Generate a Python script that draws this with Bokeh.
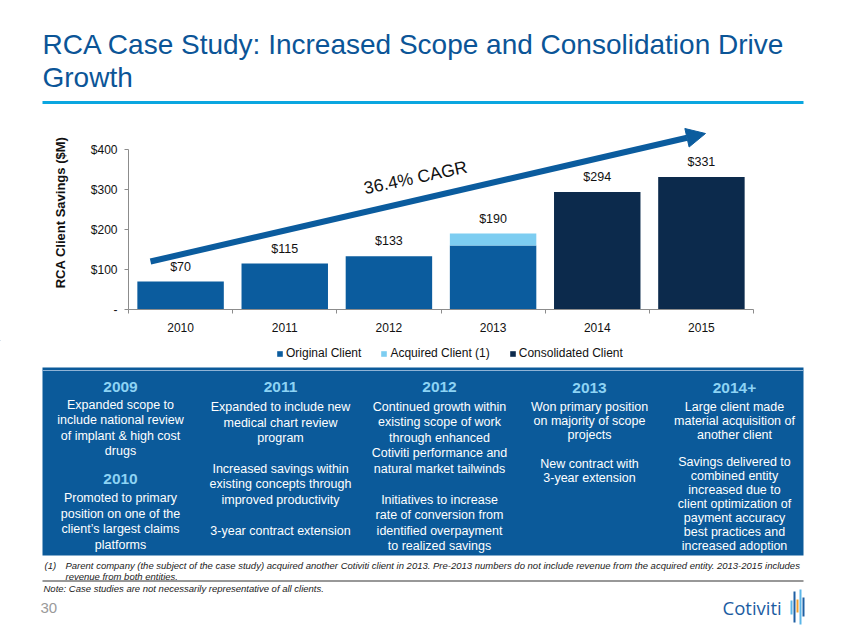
from bokeh.plotting import figure
from bokeh.models import (Range1d, FixedTicker, Arrow, NormalHead, Label, Legend,
                          LegendItem, ColumnDataSource, LabelSet)
from bokeh.embed import file_html
from bokeh.resources import INLINE
from bokeh.core.properties import value

# ---------------- data ----------------
years = ["2010", "2011", "2012", "2013", "2014", "2015"]
original = [70, 115, 133, 160, 0, 0]
acquired = [0, 0, 0, 30, 0, 0]
consolidated = [0, 0, 0, 0, 294, 331]
series_names = ["Original Client", "Acquired Client (1)", "Consolidated Client"]
y_ticks = [0, 100, 200, 300, 400]
y_tick_labels = ["-", "$100", "$200", "$300", "$400"]
cagr_text = "36.4% CAGR"

title_lines = ["RCA Case Study: Increased Scope and Consolidation Drive", "Growth"]

panel_columns = [
    [("h", ["2009"]), ("t", ["Expanded scope to", "include national review",
                             "of implant & high cost", "drugs"]),
     ("h", ["2010"]), ("t", ["Promoted to primary", "position on one of the",
                             "client\u2019s largest claims", "platforms"])],
    [("h", ["2011"]), ("t", ["Expanded to include new", "medical chart review", "program"]),
     ("t", ["Increased savings within", "existing concepts through", "improved productivity"]),
     ("t", ["3-year contract extension"])],
    [("h", ["2012"]), ("t", ["Continued growth within", "existing scope of work",
                             "through enhanced", "Cotiviti performance and",
                             "natural market tailwinds"]),
     ("t", ["Initiatives to increase", "rate of conversion from",
            "identified overpayment", "to realized savings"])],
    [("h", ["2013"]), ("t", ["Won primary position", "on majority of scope", "projects"]),
     ("t", ["New contract with", "3-year extension"])],
    [("h", ["2014+"]), ("t", ["Large client made", "material acquisition of", "another client"]),
     ("t", ["Savings delivered to", "combined entity", "increased due to",
            "client optimization of", "payment accuracy", "best practices and",
            "increased adoption"])],
]
footnote_lines = ["Parent company (the subject of the case study) acquired another Cotiviti client in 2013.  "
                  "Pre-2013 numbers do not include revenue from the acquired entity.  2013-2015 includes",
                  "revenue from both entities."]
note_text = "Note:  Case studies are not necessarily representative of all clients."
page_number = "30"
logo_text = "Cotiviti"

# ---------------- style ----------------
FONT = "Liberation Sans"
C_ORIG = "#0B5C9E"
C_ACQ = "#7DCDF1"
C_CONS = "#0C2A4C"
C_TITLE = "#0B5597"
C_RULE = "#0AA6E0"
C_PANEL = "#0B5A9A"
C_HEAD = "#8DD3F4"
PW = 846

# page pixel layout
HDR_B = 115            # header figure: page y 0..115
FR_L, FR_R, FR_T, FR_B = 128, 753, 115, 309   # chart frame
CH_B = 340             # chart figure: page y 115..340
PG_B = 635             # lower figure: page y 340..635
N = len(years)
Y_TOP = 485
SX = (FR_R - FR_L) / N
SY = (FR_B - FR_T) / Y_TOP


def px(x):
    return (x - FR_L) / SX


def py(y):
    return (FR_B - y) / SY


def sheet(top, bottom):
    f = figure(width=PW, height=bottom - top, x_range=Range1d(0, PW),
               y_range=Range1d(bottom, top), output_backend="svg",
               toolbar_location=None, min_border=0, outline_line_color=None,
               x_axis_location=None, y_axis_location=None)
    f.grid.visible = False
    return f


def txt(f, xs_, ys_, t, size, color, align="center", style="normal",
        baseline="middle", font=FONT):
    f.text(x=xs_, y=ys_, text=t, text_font=value(font), text_font_size=size,
           text_color=color, text_align=align, text_baseline=baseline,
           text_font_style=style)


# ---------------- header ----------------
hdr = sheet(0, HDR_B)
txt(hdr, [42, 42], [44, 77], title_lines, "28px", C_TITLE, align="left")
hdr.quad(left=[42], right=[803], top=[100.5], bottom=[103.5], fill_color=C_RULE,
         line_color=None)

# ---------------- chart ----------------
xs = [i + 0.5 for i in range(N)]
totals = [o + a + c for o, a, c in zip(original, acquired, consolidated)]
src = ColumnDataSource(dict(x=xs, original=original, acquired=acquired,
                            consolidated=consolidated, total=totals,
                            lab=["$%d" % t for t in totals]))

p = figure(width=PW, height=CH_B - FR_T, x_range=Range1d(0, N), y_range=Range1d(0, Y_TOP),
           output_backend="svg", toolbar_location=None,
           min_border_left=FR_L, min_border_right=PW - FR_R,
           min_border_top=0, min_border_bottom=CH_B - FR_B,
           outline_line_color=None)
p.grid.visible = False

rs = p.vbar_stack(["original", "acquired", "consolidated"], x="x", width=0.83,
                  color=[C_ORIG, C_ACQ, C_CONS], line_color=None, source=src)

p.add_layout(LabelSet(x="x", y="total", text="lab", source=src, text_align="center",
                      text_baseline="middle", y_offset=15, text_font=value(FONT),
                      text_font_size="12.5px", text_color="#111111"))

p.xaxis.ticker = FixedTicker(ticks=xs, minor_ticks=list(range(N + 1)))
p.xaxis.major_label_overrides = {x: y for x, y in zip(xs, years)}
p.xaxis.major_tick_line_color = None
p.xaxis.major_tick_out = 0
p.xaxis.major_tick_in = 0
p.xaxis.minor_tick_out = 4
p.xaxis.minor_tick_in = 0
p.xaxis.minor_tick_line_color = "#8C8C8C"
p.xaxis.axis_line_color = "#8C8C8C"
p.xaxis.major_label_standoff = 9
p.xaxis.major_label_text_font = FONT
p.xaxis.major_label_text_font_size = "12px"
p.xaxis.major_label_text_color = "#111111"

p.yaxis.ticker = FixedTicker(ticks=y_ticks)
p.yaxis.major_label_overrides = {t: l for t, l in zip(y_ticks, y_tick_labels)}
p.yaxis.bounds = (0, 400)
p.yaxis.major_tick_out = 4
p.yaxis.major_tick_in = 0
p.yaxis.minor_tick_line_color = None
p.yaxis.major_tick_line_color = "#8C8C8C"
p.yaxis.axis_line_color = "#8C8C8C"
p.yaxis.major_label_standoff = 7
p.yaxis.major_label_text_font = FONT
p.yaxis.major_label_text_font_size = "12px"
p.yaxis.major_label_text_color = "#111111"
p.yaxis.axis_label = "RCA Client Savings ($M)"
p.yaxis.axis_label_text_font = FONT
p.yaxis.axis_label_text_font_style = "bold"
p.yaxis.axis_label_text_font_size = "13px"
p.yaxis.axis_label_text_color = "#111111"
p.yaxis.axis_label_standoff = 20

p.add_layout(Arrow(end=NormalHead(size=19, fill_color=C_ORIG, line_color=C_ORIG),
                   x_start=px(150), y_start=py(261), x_end=px(705), y_end=py(133),
                   line_width=6, line_color=C_ORIG))
p.add_layout(Label(x=px(415), y=py(177), text=cagr_text, angle=12, angle_units="deg",
                   text_align="center", text_baseline="middle", text_font=FONT,
                   text_font_size="17.5px", text_color="#111111"))

# ---------------- legend, panel, footer ----------------
q = sheet(CH_B, PG_B)
# legend proxies: one hidden swatch per series, placed off the sheet
leg_rs = [q.vbar(x=[-1000], top=[-1000], bottom=[-1001], width=1, fill_color=c,
                 line_color=None) for c in [C_ORIG, C_ACQ, C_CONS]]
legend = Legend(items=[LegendItem(label=n, renderers=[r]) for n, r in zip(series_names, leg_rs)],
                orientation="horizontal", location=(276, PG_B - 360),
                glyph_width=7, glyph_height=7,
                label_standoff=3, spacing=19, padding=0, margin=0,
                label_text_font=FONT, label_text_font_size="12px",
                label_text_color="#111111", border_line_color=None,
                background_fill_alpha=0)
q.add_layout(legend)

q.quad(left=[42], right=[803], top=[367], bottom=[555], fill_color=C_PANEL, line_color=None)
q.quad(left=[42], right=[803], top=[369.5], bottom=[370.5], fill_color="#8FB3D6",
       line_color=None)

col_x = [120, 280, 439, 589, 734]
col_y = [
    [386, 404, 478.5, 497.5],
    [386, 406.5, 468.3, 530],
    [386, 406.5, 499.3],
    [387, 406.5, 463.3],
    [387, 406.5, 461],
]
col_pitch = [15.5, 15.5, 15.4, 14, 14]
hx, hy, ht, bx, by, bt = [], [], [], [], [], []
for cx, blocks, ys, pitch in zip(col_x, panel_columns, col_y, col_pitch):
    for (kind, lines), y0 in zip(blocks, ys):
        for i, line in enumerate(lines):
            if kind == "h":
                hx.append(cx); hy.append(y0 + i * pitch); ht.append(line)
            else:
                bx.append(cx); by.append(y0 + i * pitch); bt.append(line)
txt(q, hx, hy, ht, "15.5px", C_HEAD, style="bold")
txt(q, bx, by, bt, "12.5px", "white")

txt(q, [44], [565], ["(1)"], "9.5px", "#222222", align="left", style="italic")
txt(q, [65, 65], [565, 576], footnote_lines, "9.5px", "#222222", align="left",
    style="italic")
q.quad(left=[42], right=[803], top=[580], bottom=[581], fill_color="#333333",
       line_color=None)
txt(q, [43], [588], [note_text], "9.5px", "#222222", align="left", style="italic")
txt(q, [40], [607], [page_number], "15px", "#9A9A9A", align="left")

txt(q, [722], [607], [logo_text], "18.5px", "#1B5CA2", align="left", font="Open Sans")
logo_x = [791, 794, 797, 800, 803]
logo_t = [600, 591, 599, 589, 597]
logo_b = [614, 622, 612, 624, 616]
logo_c = ["#5BB6E8", "#1E5FA3", "#F0A030", "#5BB6E8", "#1E5FA3"]
q.quad(left=[v - 1 for v in logo_x], right=[v + 1 for v in logo_x], top=logo_t,
       bottom=logo_b, fill_color=logo_c, line_color=None)

open("out.html", "w").write(file_html([hdr, p, q], INLINE))
